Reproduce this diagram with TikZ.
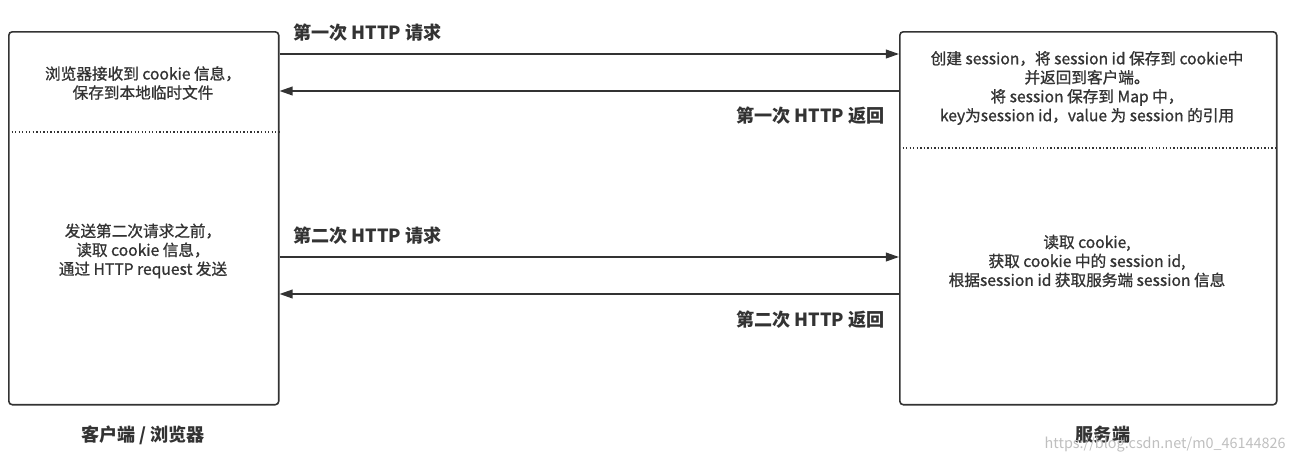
\documentclass[tikz,border=0pt]{standalone}
\usepackage{fontspec}
\newfontfamily\cjk{Noto Sans CJK SC}
\newfontfamily\cjkheavy[FakeBold=1]{Noto Sans CJK SC}
\usetikzlibrary{arrows.meta}

\definecolor{linegray}{HTML}{333333}

\tikzset{
  box/.style={draw=linegray, line width=0.9pt, rounded corners=2pt, anchor=north west,
    minimum width=5.4cm, minimum height=7.46cm, inner sep=0pt},
  sbox/.style={box, minimum width=7.54cm},
  divider/.style={draw=linegray, line width=0.8pt, dash pattern=on 0.8pt off 1.2pt},
  msg/.style={draw=linegray, line width=0.9pt, -{Triangle[length=7.5pt,width=5pt]}},
  note/.style={font=\cjkheavy\fontsize{8.9}{10.8}\selectfont, text=linegray, align=center, inner sep=0pt},
  msglabel/.style={font=\cjk\bfseries\fontsize{10.3}{12}\selectfont, text=linegray, inner sep=0pt},
  sidelabel/.style={font=\cjk\bfseries\fontsize{10.3}{12}\selectfont, text=linegray, inner sep=0pt}
}

\begin{document}
\begin{tikzpicture}[x=0.02cm, y=-0.02cm]

\useasboundingbox (0,0) rectangle (1294,463);

% Define the two boxes
\node[box] (client) at (8,31) {};
\node[sbox] (server) at (899,31) {};

% Dotted dividers
\draw[divider] (client.west |- 0,132) -- (client.east |- 0,132);
\draw[divider] (server.west |- 0,148) -- (server.east |- 0,148);

% Requests and responses
\draw[msg] (client.east |- 0,54) -- (server.west |- 0,54);
\draw[msg] (server.west |- 0,91) -- (client.east |- 0,91);
\draw[msg] (client.east |- 0,257) -- (server.west |- 0,257);
\draw[msg] (server.west |- 0,294) -- (client.east |- 0,294);

% Arrow labels
\node[msglabel, anchor=west] (req1) at (293,33) {第一次 HTTP 请求};
\node[msglabel, anchor=east] (res1) at (885,116) {第一次 HTTP 返回};
\node[msglabel, anchor=west] (req2) at (293,236) {第二次 HTTP 请求};
\node[msglabel, anchor=east] (res2) at (885,320) {第二次 HTTP 返回};

% Box texts
\node[note] (ctop) at (143,83) {浏览器接收到 cookie 信息，\\保存到本地临时文件};
\node[note] (cbot) at (143,251) {发送第二次请求之前，\\读取 cookie 信息，\\通过 HTTP request 发送};
\node[note] (stop) at (1087,88) {创建 session，将 session id 保存到 cookie中\\并返回到客户端。\\将 session 保存到 Map 中，\\key为session id，value 为 session 的引用};
\node[note] (sbot) at (1087,261) {读取 cookie,\\获取 cookie 中的 session id,\\根据session id 获取服务端 session 信息};

% Labels
\node[sidelabel] (clientlabel) at (143,435) {客户端 / 浏览器};
\node[sidelabel] (serverlabel) at (1103,435) {服务端};
\node[font=\cjk\fontsize{8.2}{10}\selectfont, text=black!25, anchor=east, inner sep=0pt] (mark) at (1286,445) {https://blog.csdn.net/m0\_46144826};

\end{tikzpicture}
\end{document}
